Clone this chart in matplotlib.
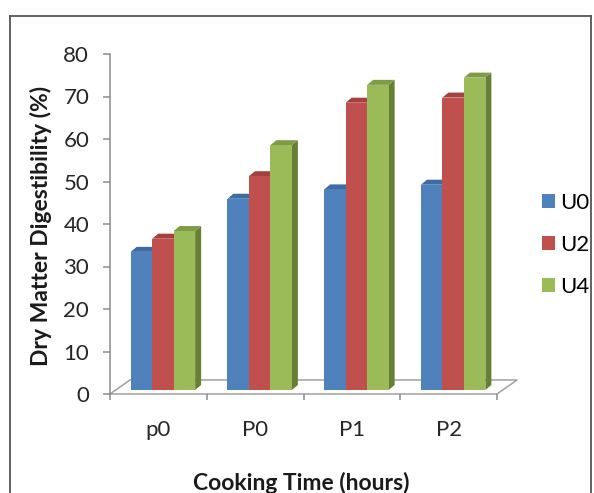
import matplotlib
matplotlib.use("Agg")
import matplotlib.pyplot as plt
from matplotlib.lines import Line2D

plt.rcParams['font.family'] = ['Lato', 'DejaVu Sans']

# data
categories = ['p0', 'P0', 'P1', 'P2']
series_names = ['U0', 'U2', 'U4']
u0 = [32.5, 45.0, 47.2, 48.3]
u2 = [35.6, 50.3, 67.6, 68.8]
u4 = [37.4, 57.6, 71.8, 73.5]

front_cols = ['#4F81BD', '#C0504D', '#9BBB59']
top_cols = ['#3D6BA3', '#A5403E', '#7E9C45']
side_cols = ['#35598A', '#8A3331', '#667F33']

fig = plt.figure(figsize=(5.94, 4.93), dpi=100)
ax = fig.add_axes([110/594, 99/493, 387/594, 340/493])
ax.set_xlim(0, 4)
ax.set_ylim(0, 80)

# pseudo 3d geometry, in data units
floor_dx, floor_dy = 0.207, 3.3
bar_x0, bar_base = 0.214, 0.94
bar_w = 0.222
dep_x, dep_y = 0.062, 1.18

grey = '#8C8C8C'
# floor
ax.plot([0, 4, 4 + floor_dx, floor_dx, 0], [0, 0, floor_dy, floor_dy, 0],
        color='#A0A0A0', lw=1.1, clip_on=False, zorder=1)

z = 2
bars = []
for j, vals in enumerate([u0, u2, u4]):
    xs = [i + bar_x0 + j * bar_w for i in range(len(categories))]
    for x, v in zip(xs, vals):
        xr = x + bar_w
        top = bar_base + v
        ax.fill([xr, xr + dep_x, xr + dep_x, xr],
                [bar_base, bar_base + dep_y, top + dep_y, top],
                color=side_cols[j], lw=0, clip_on=False, zorder=z)
        ax.fill([x, xr, xr + dep_x, x + dep_x],
                [top, top, top + dep_y, top + dep_y],
                color=top_cols[j], lw=0, clip_on=False, zorder=z)
    b = ax.bar(xs, vals, width=bar_w, bottom=bar_base, align='edge',
               color=front_cols[j], lw=0, zorder=z + 1, clip_on=False,
               label=series_names[j])
    bars.append(b)
    z += 2

for s in ['top', 'right', 'bottom']:
    ax.spines[s].set_visible(False)
ax.spines['left'].set_color(grey)
ax.spines['left'].set_linewidth(1.1)

ax.set_yticks(range(0, 81, 10))
ax.tick_params(axis='y', direction='out', length=5, width=1.1, color=grey,
               labelsize=16, labelcolor='#262626', pad=10)

ax.set_xticks([i + 0.5 for i in range(len(categories))])
ax.set_xticklabels(categories)
ax.tick_params(axis='x', length=0, labelsize=16, labelcolor='#262626', pad=19)
ax.set_xticks(range(0, 5), minor=True)
ax.tick_params(axis='x', which='minor', direction='out', length=4.5, width=1.1, color=grey)

fig.text(41/594, 1 - 226/493, 'Dry Matter Digestibility (%)', rotation=90,
         ha='center', va='center', fontsize=16.5, fontweight='bold', color='#1a1a1a')
fig.text(301/594, 1 - 483/493, 'Cooking Time (hours)', ha='center', va='center',
         fontsize=16.5, fontweight='bold', color='#1a1a1a')

fig.legend(handles=bars, labels=series_names, loc='center left',
           bbox_to_anchor=(542/594, 1 - 245/493), frameon=False,
           fontsize=16, handlelength=0.6, handleheight=0.6,
           handletextpad=0.2, labelspacing=1.0, borderpad=0, borderaxespad=0)

# outer border of the picture
for xs_, ys_ in [([10/594, 10/594], [0, 1 - 16/493]),
                 ([10/594, 591/594], [1 - 16/493, 1 - 16/493]),
                 ([591/594, 591/594], [1 - 16/493, 0])]:
    fig.add_artist(Line2D(xs_, ys_, color='#555555', lw=1.3))

fig.savefig('out.png', dpi=100)
